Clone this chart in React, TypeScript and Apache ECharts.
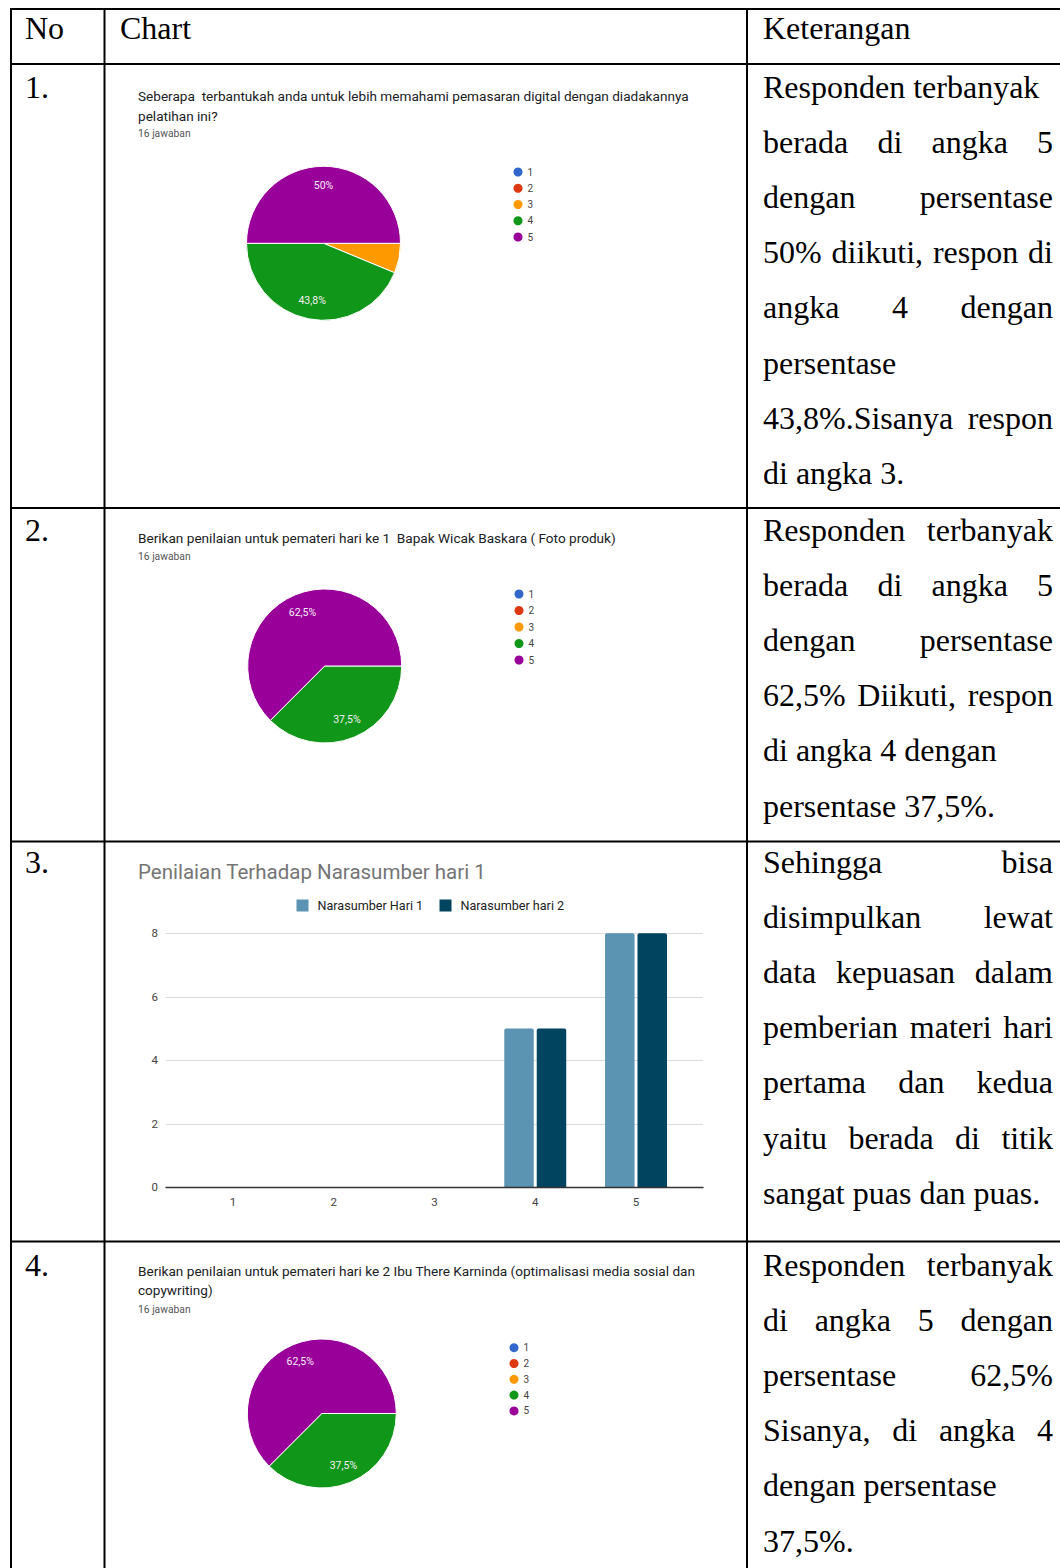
import { useEffect, useRef } from 'react';
import * as echarts from 'echarts';

const PAGE_W = 1060;
const PAGE_H = 1568;

// ---- survey data (16 answers per question) ----
const ratingNames = ['1', '2', '3', '4', '5'];
const ratingColors = ['#3366cc', '#dc3912', '#ff9900', '#109618', '#990099'];
const helpfulnessCounts = [0, 0, 1, 7, 8];
const speakerDay1Counts = [0, 0, 0, 6, 10];
const speakerDay2Counts = [0, 0, 0, 6, 10];

const barCategories = ['1', '2', '3', '4', '5'];
const barSeriesNames = ['Narasumber Hari 1', 'Narasumber hari 2'];
const barDay1 = [0, 0, 0, 5, 8];
const barDay2 = [0, 0, 0, 5, 8];
const barColors = ['#5b93b2', '#01445f'];
const barAxisMax = 8;
const barAxisStep = 2;

// ---- texts ----
const q1Title = [
  'Seberapa  terbantukah anda untuk lebih memahami pemasaran digital dengan diadakannya',
  'pelatihan ini?',
];
const q2Title = ['Berikan penilaian untuk pemateri hari ke 1  Bapak Wicak Baskara ( Foto produk)'];
const q4Title = [
  'Berikan penilaian untuk pemateri hari ke 2 Ibu There Karninda (optimalisasi media sosial dan',
  'copywriting)',
];
const answerCountText = '16 jawaban';
const barTitle = 'Penilaian Terhadap Narasumber hari 1';

const headerTexts = ['No', 'Chart', 'Keterangan'];
const rowNumbers = ['1.', '2.', '3.', '4.'];
const noteRows: string[][] = [
  [
    'Responden terbanyak',
    'berada di angka 5',
    'dengan persentase',
    '50% diikuti, respon di',
    'angka 4 dengan',
    'persentase',
    '43,8%.Sisanya respon',
    'di angka 3.',
  ],
  [
    'Responden terbanyak',
    'berada di angka 5',
    'dengan persentase',
    '62,5% Diikuti, respon',
    'di angka 4 dengan',
    'persentase 37,5%.',
  ],
  [
    'Sehingga bisa',
    'disimpulkan lewat',
    'data kepuasan dalam',
    'pemberian materi hari',
    'pertama dan kedua',
    'yaitu berada di titik',
    'sangat puas dan puas.',
  ],
  [
    'Responden terbanyak',
    'di angka 5 dengan',
    'persentase 62,5%',
    'Sisanya, di angka 4',
    'dengan persentase',
    '37,5%.',
  ],
];
// lines stretched edge to edge (justified) in the description column
const noteJustified: boolean[][] = [
  [false, true, true, true, true, false, true, false],
  [true, true, true, true, false, false],
  [true, true, true, true, true, true, false],
  [true, true, true, true, false, false],
];

// ---- table geometry ----
const LINE_W = 2;
const COL_LINES_X = [10, 103.5, 746];
const ROW_LINES_Y = [8, 63, 507, 840.5, 1240.5];
const NO_X = 25;
const CHART_X = 120;
const NOTE_X = 763;
const NOTE_RIGHT = 1053;
const HEADER_Y = 28;
const ROW_FIRST_Y = [87, 530, 862, 1265];
const LINE_STEP = 55.1;

const UI_FONT = 'Roboto, "Noto Sans", Arial, sans-serif';
const TABLE_FONT = '32px "Liberation Serif", "Times New Roman", serif';

function pctLabel(p: number) {
  const v = Math.round(p * 10) / 10;
  return String(v).replace('.', ',') + '%';
}

function pieSeries(counts: number[], cx: number, cy: number, r: number) {
  // push labels from half radius out towards the rim
  const pull = 0.4;
  return {
    type: 'pie',
    center: [cx, cy],
    radius: [0, r],
    startAngle: 0,
    clockwise: true,
    silent: true,
    avoidLabelOverlap: false,
    itemStyle: { borderColor: '#ffffff', borderWidth: 1 },
    label: {
      show: true,
      position: 'inside',
      color: '#f6eef7',
      fontSize: 10.5,
      fontFamily: UI_FONT,
      formatter: (p: any) => (p.percent >= 10 ? pctLabel(p.percent) : ''),
    },
    labelLine: { show: false },
    labelLayout: (params: any) => {
      const rect = params.labelRect;
      if (!rect || !rect.width) return {};
      const lx = rect.x + rect.width / 2;
      const ly = rect.y + rect.height / 2;
      return { dx: (lx - cx) * pull, dy: (ly - cy) * pull };
    },
    data: ratingNames.map((name, i) => ({
      name,
      value: counts[i],
      itemStyle: { color: ratingColors[i] },
    })),
  };
}

function pieLegend(left: number, top: number, gap: number) {
  return {
    orient: 'vertical',
    left,
    top,
    padding: 0,
    icon: 'circle',
    itemWidth: 9,
    itemHeight: 9,
    itemGap: gap,
    selectedMode: false,
    data: ratingNames,
    itemStyle: { borderWidth: 0 },
    textStyle: { fontSize: 10, lineHeight: 10, color: '#444444', fontFamily: UI_FONT },
  };
}

function questionTitle(lines: string[], top: number, lineHeight: number) {
  return {
    text: lines.join('\n'),
    left: 138,
    top,
    padding: 0,
    textStyle: {
      fontSize: 13.6,
      lineHeight,
      color: '#202124',
      fontWeight: 'normal',
      fontFamily: UI_FONT,
    },
  };
}

function countTitle(top: number) {
  return {
    text: answerCountText,
    left: 138,
    top,
    padding: 0,
    textStyle: {
      fontSize: 10.3,
      lineHeight: 12,
      color: '#555555',
      fontWeight: 'normal',
      fontFamily: UI_FONT,
    },
  };
}

function tableGraphics() {
  const els: any[] = [];
  // borders
  COL_LINES_X.forEach((x) => {
    els.push({
      type: 'rect',
      silent: true,
      shape: { x, y: ROW_LINES_Y[0], width: LINE_W, height: PAGE_H - ROW_LINES_Y[0] },
      style: { fill: '#000000' },
    });
  });
  ROW_LINES_Y.forEach((y) => {
    els.push({
      type: 'rect',
      silent: true,
      shape: { x: COL_LINES_X[0], y, width: PAGE_W - COL_LINES_X[0], height: LINE_W },
      style: { fill: '#000000' },
    });
  });

  const text = (s: string, x: number, y: number) => ({
    type: 'text',
    silent: true,
    x,
    y,
    style: { text: s, font: TABLE_FONT, fill: '#000000', align: 'left', verticalAlign: 'middle' },
  });

  // header
  [NO_X, CHART_X, NOTE_X].forEach((x, i) => els.push(text(headerTexts[i], x, HEADER_Y)));

  // measuring context for justified lines
  const ctx = document.createElement('canvas').getContext('2d')!;
  ctx.font = TABLE_FONT;
  const widthOf = (s: string) => ctx.measureText(s).width;

  noteRows.forEach((lines, r) => {
    els.push(text(rowNumbers[r], NO_X, ROW_FIRST_Y[r]));
    lines.forEach((line, li) => {
      const y = ROW_FIRST_Y[r] + li * LINE_STEP;
      const words = line.split(' ');
      if (!noteJustified[r][li] || words.length < 2) {
        els.push(text(line, NOTE_X, y));
        return;
      }
      const widths = words.map(widthOf);
      const total = widths.reduce((a, b) => a + b, 0);
      const gap = (NOTE_RIGHT - NOTE_X - total) / (words.length - 1);
      let x = NOTE_X;
      words.forEach((w, wi) => {
        els.push(text(w, x, y));
        x += widths[wi] + gap;
      });
    });
  });
  return els;
}

function buildOption() {
  const gridTop = 933.3;
  const gridHeight = 254;
  return {
    animation: false,
    backgroundColor: '#ffffff',
    title: [
      questionTitle(q1Title, 86.25, 19.5),
      countTitle(127),
      questionTitle(q2Title, 528.25, 19.5),
      countTitle(550),
      {
        text: barTitle,
        left: 138,
        top: 860,
        padding: 0,
        textStyle: {
          fontSize: 20.5,
          lineHeight: 24,
          color: '#757575',
          fontWeight: 'normal',
          fontFamily: UI_FONT,
        },
      },
      questionTitle(q4Title, 1261.5, 19),
      countTitle(1303),
    ],
    legend: [
      pieLegend(513.5, 167, 6.25),
      pieLegend(514.5, 589, 6.5),
      pieLegend(509.5, 1342.7, 5.8),
      {
        orient: 'horizontal',
        left: 296.5,
        top: 899,
        padding: 0,
        icon: 'rect',
        itemWidth: 12,
        itemHeight: 12,
        itemGap: 16.3,
        selectedMode: false,
        data: barSeriesNames,
        itemStyle: { borderWidth: 0 },
        textStyle: { fontSize: 12.6, color: '#222222', fontFamily: UI_FONT, padding: [0, 0, 0, 4] },
      },
    ],
    grid: [
      // gridlines span a little wider than the category band
      { left: 166, top: gridTop, width: 537, height: gridHeight, outerBoundsMode: 'none' },
      { left: 182.6, top: gridTop, width: 503.8, height: gridHeight, outerBoundsMode: 'none' },
    ],
    xAxis: [
      {
        gridIndex: 0,
        type: 'value',
        min: 0,
        max: 1,
        z: 3,
        axisLine: { show: true, lineStyle: { color: '#333333', width: 1.3 } },
        axisTick: { show: false },
        axisLabel: { show: false },
        splitLine: { show: false },
      },
      {
        gridIndex: 1,
        type: 'category',
        data: barCategories,
        axisLine: { show: false },
        axisTick: { show: false },
        axisLabel: { margin: 9, fontSize: 11.5, color: '#444444', fontFamily: UI_FONT },
        splitLine: { show: false },
      },
    ],
    yAxis: [
      {
        gridIndex: 0,
        type: 'value',
        min: 0,
        max: barAxisMax,
        interval: barAxisStep,
        axisLine: { show: false },
        axisTick: { show: false },
        axisLabel: { margin: 8, fontSize: 11.5, color: '#444444', fontFamily: UI_FONT },
        splitLine: { show: true, lineStyle: { color: '#dadada', width: 1 } },
      },
      {
        gridIndex: 1,
        type: 'value',
        min: 0,
        max: barAxisMax,
        interval: barAxisStep,
        show: false,
        splitLine: { show: false },
      },
    ],
    graphic: { elements: tableGraphics() },
    series: [
      pieSeries(helpfulnessCounts, 323.5, 243.3, 77),
      pieSeries(speakerDay1Counts, 324.7, 666, 77),
      pieSeries(speakerDay2Counts, 321.8, 1413.5, 74.5),
      {
        type: 'bar',
        name: barSeriesNames[0],
        xAxisIndex: 1,
        yAxisIndex: 1,
        data: barDay1,
        barWidth: 29.5,
        barGap: '10%',
        silent: true,
        itemStyle: { color: barColors[0], borderRadius: [2, 2, 0, 0] },
      },
      {
        type: 'bar',
        name: barSeriesNames[1],
        xAxisIndex: 1,
        yAxisIndex: 1,
        data: barDay2,
        barWidth: 29.5,
        barGap: '10%',
        silent: true,
        itemStyle: { color: barColors[1], borderRadius: [2, 2, 0, 0] },
      },
    ],
  };
}

export default function App() {
  const ref = useRef<HTMLDivElement>(null);
  useEffect(() => {
    const el = ref.current;
    if (!el) return;
    const chart = echarts.init(el, null, { renderer: 'svg' });
    chart.setOption(buildOption() as any);
    return () => chart.dispose();
  }, []);
  return (
    <div
      ref={ref}
      style={{ position: 'absolute', left: 0, top: 0, width: PAGE_W, height: PAGE_H, background: '#fff' }}
    />
  );
}
